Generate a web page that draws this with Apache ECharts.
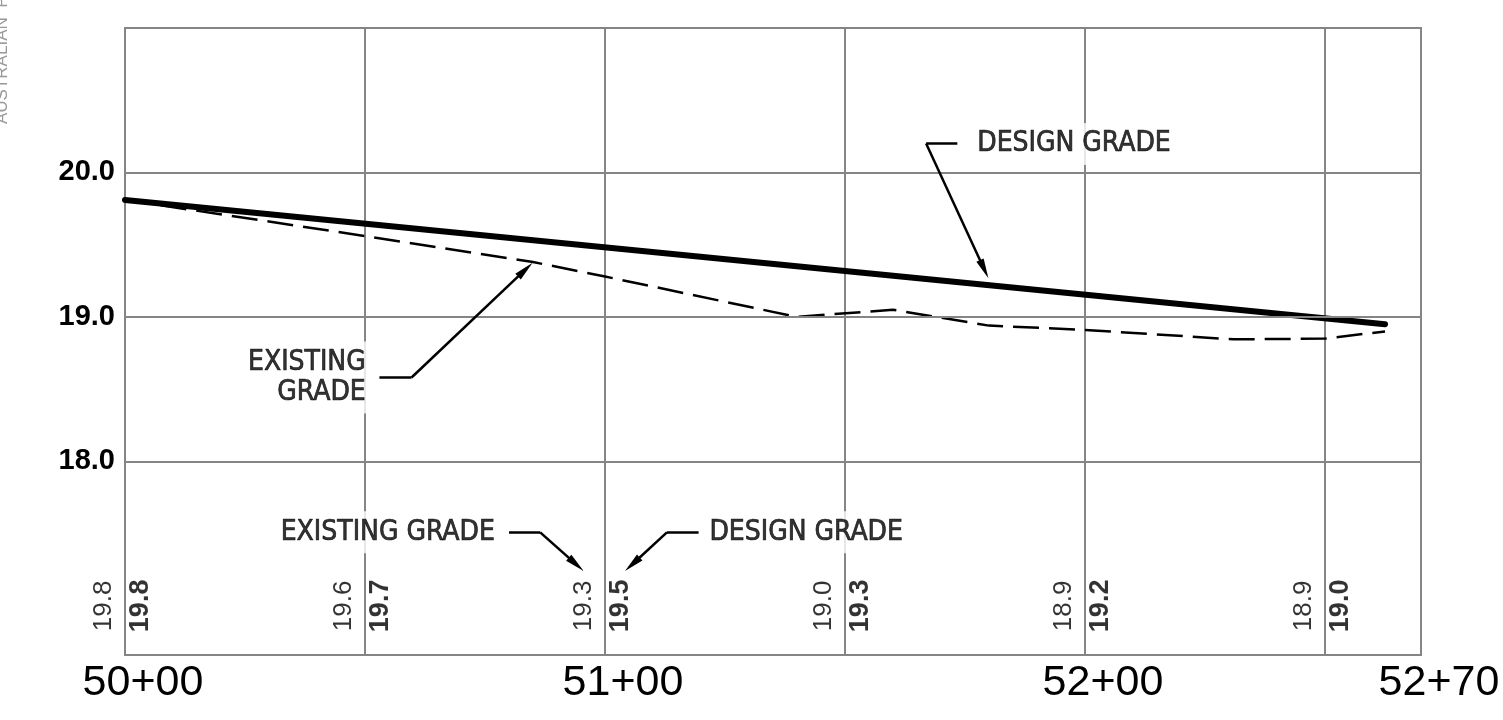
<!DOCTYPE html>
<html><head><meta charset="utf-8">
<script src="https://cdn.jsdelivr.net/npm/echarts@6/dist/echarts.min.js"></script>
<style>html,body{margin:0;padding:0;background:#fff}#c{width:1503px;height:720px}</style>
</head><body><div id="c"></div>
<script>
// ---- data ----
const stationTicks = [5000, 5100, 5200, 5270];
const stationTickLabels = ['50+00', '51+00', '52+00', '52+70'];
const elevTicks = [18, 19, 20];
const elevTickLabels = ['18.0', '19.0', '20.0'];
const designStations = [5000, 5262.5];
const designElev = [19.81, 18.95];
const existingStations = [5000, 5050, 5085, 5100, 5140, 5160, 5180, 5200, 5231, 5250, 5262.5];
const existingElev = [19.81, 19.56, 19.38, 19.28, 19.0, 19.05, 18.94, 18.91, 18.845, 18.85, 18.90];
const labelStations = [5000, 5050, 5100, 5150, 5200, 5250];
const existingLabels = ['19.8', '19.6', '19.3', '19.0', '18.9', '18.9'];
const designLabels = ['19.8', '19.7', '19.5', '19.3', '19.2', '19.0'];
const labelRowElev = 17.0;

// ---- annotations (data coordinates) ----
const annoTexts = [
  { text: 'DESIGN GRADE', at: [5176.3, 20.197], align: 'left' },
  { text: 'EXISTING\nGRADE', at: [5051.4, 18.581], align: 'right' },
  { text: 'EXISTING GRADE', at: [5078.3, 17.509], align: 'right' },
  { text: 'DESIGN GRADE', at: [5120.5, 17.509], align: 'left' }
];
const leaders = [
  [[5173.4, 20.20], [5166.9, 20.20], [5179.0, 19.330]],
  [[5053.0, 18.581], [5059.7, 18.581], [5083.4, 19.327]],
  [[5080.0, 17.509], [5086.5, 17.509], [5094.0, 17.287]],
  [[5119.5, 17.509], [5112.9, 17.509], [5105.7, 17.288]]
];

const zip = (a, b) => a.map((v, i) => [v, b[i]]);
const GRID = '#858585';
const COND = "'DejaVu Sans Condensed', 'DejaVu Sans', sans-serif";
const SANS = "'Liberation Sans', Arial, sans-serif";

const segs = [], tips = [];
leaders.forEach(c => {
  for (let i = 0; i < c.length - 2; i++) segs.push({ coords: [c[i], c[i + 1]] });
  tips.push({ coords: [c[c.length - 2], c[c.length - 1]] });
});

const chart = echarts.init(document.getElementById('c'), null, { renderer: 'canvas' });
chart.setOption({
  animation: false,
  backgroundColor: '#fff',
  grid: { left: 125, right: 82, top: 28, bottom: 65, show: true, borderColor: GRID, borderWidth: 2 },
  xAxis: {
    type: 'value', min: 5000, max: 5270, interval: 50,
    axisLine: { show: false }, axisTick: { show: false },
    splitLine: { show: true, lineStyle: { color: GRID, width: 2 } },
    axisLabel: {
      showMinLabel: true, showMaxLabel: true,
      color: '#000', fontFamily: SANS, fontSize: 43, margin: 7,
      padding: [0, 0, 0, 36],
      formatter: v => { const i = stationTicks.indexOf(Math.round(v)); return i >= 0 ? stationTickLabels[i] : ''; }
    }
  },
  yAxis: {
    type: 'value', min: 16.66, max: 21.0,
    axisLine: { show: false }, axisTick: { show: false }, axisLabel: { show: false }, splitLine: { show: false }
  },
  graphic: [{
    type: 'text', x: 11, y: 124, rotation: Math.PI / 2,
    style: { text: 'AUSTRALIAN  P', fill: '#999', fontSize: 17, fontFamily: SANS, align: 'left', verticalAlign: 'bottom' }
  }],
  series: [
    {
      type: 'line', data: [], z: 1, silent: true,
      markLine: {
        silent: true, symbol: 'none', animation: false,
        lineStyle: { color: GRID, width: 2, type: 'solid' },
        label: { position: 'start', distance: 10, color: '#000', fontFamily: SANS, fontSize: 29, fontWeight: 'bold' },
        data: elevTicks.map((v, i) => ({ yAxis: v, label: { formatter: elevTickLabels[i] } }))
      }
    },
    {
      name: 'Existing grade', type: 'line', z: 3, symbol: 'none',
      data: zip(existingStations, existingElev),
      lineStyle: { color: '#000', width: 2.5, type: [26, 10] }
    },
    {
      name: 'Design grade', type: 'line', z: 4, symbol: 'none',
      data: zip(designStations, designElev),
      lineStyle: { color: '#000', width: 6, cap: 'round' }
    },
    {
      type: 'scatter', z: 5, symbolSize: 0,
      data: labelStations.map((s, i) => ({ value: [s, labelRowElev], name: existingLabels[i] })),
      label: { show: true, position: 'inside', rotate: 90, offset: [0, -21], formatter: p => p.name,
        color: '#000', fontFamily: SANS, fontSize: 26, fontWeight: 'normal', align: 'center', verticalAlign: 'middle' }
    },
    {
      type: 'scatter', z: 5, symbolSize: 0,
      data: labelStations.map((s, i) => ({ value: [s, labelRowElev], name: designLabels[i] })),
      label: { show: true, position: 'inside', rotate: 90, offset: [0, 16], formatter: p => p.name,
        color: '#000', fontFamily: SANS, fontSize: 27, fontWeight: 'bold', align: 'center', verticalAlign: 'middle' }
    },
    {
      type: 'lines', coordinateSystem: 'cartesian2d', z: 6, symbol: 'none',
      lineStyle: { color: '#000', width: 2.5, opacity: 1 },
      data: segs
    },
    {
      type: 'lines', coordinateSystem: 'cartesian2d', z: 6,
      symbol: ['none', 'triangle'], symbolSize: [[8, 20], [8, 20]],
      lineStyle: { color: '#000', width: 2.5, opacity: 1 },
      itemStyle: { color: '#000' },
      data: tips
    },
    {
      type: 'scatter', z: 7, symbolSize: 0,
      data: annoTexts.map(a => ({ value: a.at, name: a.text, label: { align: a.align } })),
      label: { show: true, position: 'inside', formatter: p => p.name, color: '#000',
        fontFamily: COND, fontSize: 28, lineHeight: 30, verticalAlign: 'middle',
        textBorderColor: '#000', textBorderWidth: 0.7,
        backgroundColor: '#fff', padding: [6, 6] }
    }
  ]
});
</script></body></html>
